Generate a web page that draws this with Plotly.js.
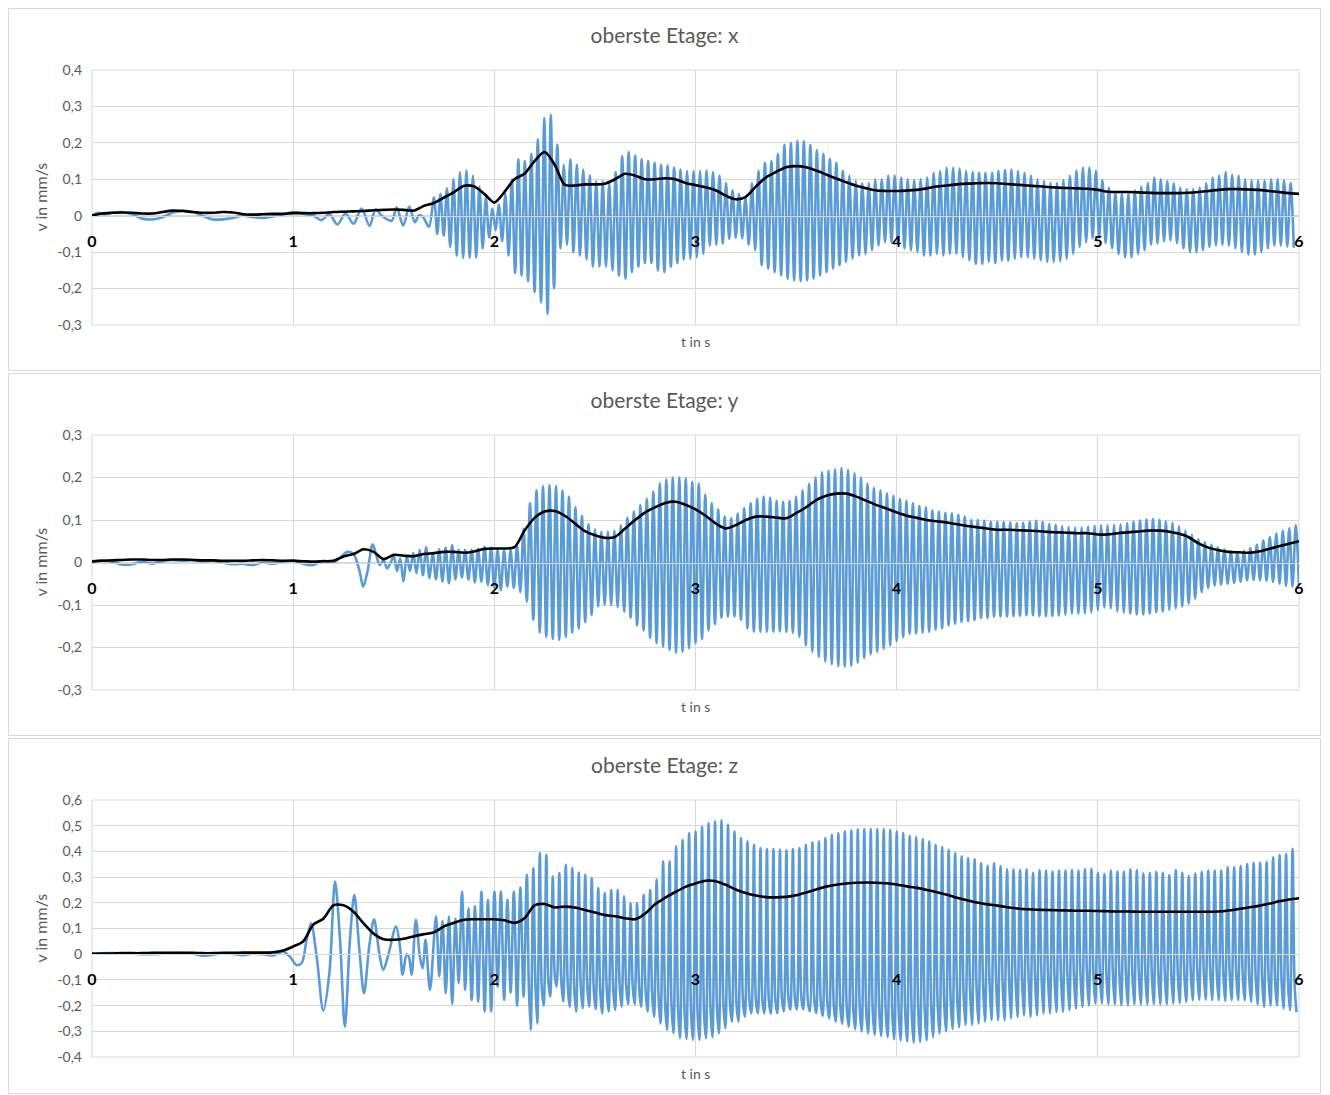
<!DOCTYPE html>
<html>
<head>
<meta charset="utf-8">
<script src="https://cdn.plot.ly/plotly-3.0.1.min.js"></script>
<style>
  html, body { margin: 0; padding: 0; background: #fff; width: 1330px; height: 1095px; overflow: hidden; }
  .panel { position: absolute; left: 8px; width: 1313px; border: 1px solid #d9d9d9; box-sizing: border-box; background: #fff; }
</style>
</head>
<body>
<div id="p1" class="panel" style="top:8px;height:363px;"></div>
<div id="p2" class="panel" style="top:373px;height:363px;"></div>
<div id="p3" class="panel" style="top:738px;height:356px;"></div>
<script>
// ---------------- DATA ----------------
const titles = ["oberste Etage: x", "oberste Etage: y", "oberste Etage: z"];
const xTickVals = [0, 1, 2, 3, 4, 5, 6];
const xTickText = ["0", "1", "2", "3", "4", "5", "6"];
const yTickVals1 = [-0.3, -0.2, -0.1, 0, 0.1, 0.2, 0.3, 0.4];
const yTickText1 = ["-0,3", "-0,2", "-0,1", "0", "0,1", "0,2", "0,3", "0,4"];
const yTickVals2 = [-0.3, -0.2, -0.1, 0, 0.1, 0.2, 0.3];
const yTickText2 = ["-0,3", "-0,2", "-0,1", "0", "0,1", "0,2", "0,3"];
const yTickVals3 = [-0.4, -0.3, -0.2, -0.1, 0, 0.1, 0.2, 0.3, 0.4, 0.5, 0.6];
const yTickText3 = ["-0,4", "-0,3", "-0,2", "-0,1", "0", "0,1", "0,2", "0,3", "0,4", "0,5", "0,6"];

// oscillation: one cycle every 1/31 s
const cyclePeriod = 1 / 31;
const meanStep = 0.05;   // black curve sampled every 0.05 s from 0 to 6 s

// ---- x direction ----
const xEarlyT = [0,0.03,0.06,0.1,0.15,0.2,0.25,0.3,0.35,0.4,0.45,0.5,0.55,0.6,0.65,0.7,0.75,0.8,0.85,0.9,0.95,1.0,1.05,1.1,
  1.14,1.18,1.22,1.26,1.3,1.34,1.38,1.41,1.44,1.49,1.514,1.547,1.577,1.605,1.627,1.646,1.675];
const xEarlyV = [0,0.008,0.004,0.008,0.01,0.004,-0.008,-0.01,-0.004,0.008,0.014,0.01,0,-0.01,-0.01,-0.006,0,-0.004,-0.006,-0.002,0.004,0.01,0.006,0,
  -0.012,0.004,-0.024,0.006,-0.022,0.02,-0.028,0.018,0,-0.014,0.023,-0.027,0.025,-0.018,0.002,-0.004,-0.03];
const xOscStart = 1.70;
const xHi = [
  0.05,0.06,0.075,0.10,0.12,0.125,0.11,0.08,0.05,0.02,
  0.03,0.06,0.10,0.155,0.15,0.17,0.21,0.268,0.277,0.195,
  0.14,0.155,0.14,0.127,0.11,0.095,0.095,0.09,0.12,0.164,
  0.175,0.165,0.155,0.15,0.145,0.14,0.138,0.132,0.127,0.123,
  0.123,0.123,0.125,0.12,0.11,0.09,0.07,0.06,0.05,0.09,
  0.123,0.145,0.15,0.17,0.195,0.2,0.205,0.205,0.195,0.18,
  0.17,0.156,0.145,0.123,0.11,0.095,0.09,0.09,0.1,0.1,
  0.11,0.11,0.105,0.1,0.098,0.1,0.105,0.118,0.123,0.132,
  0.132,0.13,0.123,0.12,0.118,0.118,0.118,0.123,0.125,0.127,
  0.123,0.118,0.11,0.1,0.095,0.09,0.09,0.098,0.11,0.125,
  0.132,0.132,0.123,0.098,0.077,0.064,0.06,0.06,0.07,0.08,
  0.09,0.105,0.1,0.095,0.089,0.077,0.073,0.073,0.077,0.09,
  0.105,0.11,0.12,0.112,0.11,0.1,0.097,0.097,0.097,0.1,
  0.1,0.097,0.09];
const xLo = [
  -0.05,-0.055,-0.086,-0.11,-0.116,-0.116,-0.115,-0.09,-0.06,-0.04,
  -0.07,-0.11,-0.157,-0.164,-0.18,-0.21,-0.238,-0.27,-0.2,-0.09,
  -0.08,-0.1,-0.11,-0.12,-0.14,-0.14,-0.14,-0.15,-0.165,-0.173,
  -0.155,-0.14,-0.13,-0.13,-0.15,-0.155,-0.14,-0.13,-0.12,-0.118,
  -0.114,-0.105,-0.082,-0.08,-0.077,-0.064,-0.06,-0.062,-0.08,-0.095,
  -0.136,-0.145,-0.155,-0.164,-0.173,-0.177,-0.18,-0.178,-0.173,-0.164,
  -0.155,-0.145,-0.136,-0.127,-0.118,-0.11,-0.105,-0.095,-0.082,-0.073,
  -0.073,-0.077,-0.09,-0.095,-0.1,-0.11,-0.11,-0.105,-0.11,-0.105,
  -0.105,-0.114,-0.123,-0.132,-0.132,-0.127,-0.13,-0.123,-0.123,-0.118,
  -0.114,-0.114,-0.118,-0.123,-0.127,-0.127,-0.125,-0.118,-0.105,-0.086,
  -0.073,-0.062,-0.06,-0.075,-0.09,-0.105,-0.114,-0.114,-0.105,-0.095,
  -0.08,-0.077,-0.07,-0.068,-0.075,-0.09,-0.1,-0.1,-0.095,-0.086,
  -0.082,-0.08,-0.082,-0.09,-0.1,-0.107,-0.107,-0.1,-0.09,-0.082,
  -0.082,-0.085,-0.088];
const xMean = [
  0.00,0.006,0.008,0.009,0.008,0.006,0.006,0.01,0.014,0.013,
  0.01,0.008,0.008,0.01,0.009,0.004,0.003,0.004,0.005,0.005,
  0.007,0.007,0.007,0.008,0.01,0.011,0.012,0.013,0.015,0.016,
  0.017,0.016,0.014,0.027,0.035,0.05,0.065,0.082,0.08,0.06,
  0.036,0.065,0.1,0.115,0.15,0.175,0.14,0.085,0.083,0.086,
  0.086,0.088,0.1,0.115,0.11,0.1,0.1,0.103,0.1,0.09,
  0.084,0.078,0.07,0.055,0.045,0.052,0.08,0.105,0.12,0.133,
  0.136,0.133,0.124,0.113,0.102,0.092,0.082,0.075,0.069,0.068,
  0.068,0.069,0.071,0.075,0.08,0.083,0.086,0.088,0.089,0.09,
  0.089,0.087,0.085,0.083,0.081,0.079,0.077,0.076,0.075,0.074,
  0.071,0.066,0.065,0.065,0.064,0.063,0.062,0.062,0.062,0.063,
  0.065,0.068,0.071,0.073,0.073,0.072,0.071,0.068,0.065,0.062,
  0.06];

// ---- y direction ----
const yEarlyT = [0,0.05,0.1,0.15,0.2,0.25,0.3,0.35,0.4,0.45,0.5,0.55,0.6,0.65,0.7,0.75,0.8,0.85,0.9,0.95,1.0,1.05,1.1,1.15,1.2,
  1.23,1.27,1.3,1.33,1.348,1.37,1.395,1.415,1.43,1.45,1.467,1.485];
const yEarlyV = [0.003,0.005,0.002,-0.005,-0.004,0.002,-0.003,0.003,0.006,0.004,0.006,0.003,0.004,0,-0.004,-0.003,-0.006,0,-0.003,0.002,0.005,-0.003,-0.006,0.004,0,
  0.01,0.025,0.02,-0.02,-0.057,-0.02,0.043,0.014,-0.006,0.005,-0.014,0.0];
const yOscStart = 1.50;
const yHi = [
  0.015,0.01,0.015,0.023,0.03,0.036,0.022,0.031,0.035,0.041,
  0.03,0.03,0.03,0.032,0.037,0.035,0.03,0.03,0.03,0.04,
  0.08,0.14,0.17,0.18,0.182,0.18,0.17,0.155,0.13,0.11,
  0.09,0.078,0.073,0.073,0.075,0.088,0.105,0.12,0.135,0.15,
  0.167,0.186,0.196,0.2,0.2,0.198,0.19,0.186,0.16,0.14,
  0.125,0.108,0.104,0.115,0.128,0.14,0.15,0.155,0.152,0.145,
  0.143,0.145,0.155,0.17,0.185,0.2,0.212,0.216,0.219,0.222,
  0.218,0.21,0.2,0.186,0.176,0.17,0.163,0.157,0.15,0.145,
  0.14,0.133,0.13,0.123,0.12,0.117,0.116,0.112,0.108,0.1,
  0.1,0.098,0.096,0.096,0.095,0.094,0.092,0.093,0.096,0.098,
  0.095,0.09,0.088,0.086,0.084,0.083,0.083,0.085,0.087,0.088,
  0.088,0.089,0.09,0.092,0.096,0.099,0.101,0.102,0.1,0.097,
  0.094,0.086,0.075,0.065,0.055,0.048,0.042,0.036,0.031,0.026,
  0.024,0.027,0.034,0.042,0.052,0.06,0.068,0.075,0.081,0.088];
const yLo = [
  -0.02,-0.045,-0.02,-0.025,-0.03,-0.037,-0.04,-0.045,-0.049,-0.04,
  -0.035,-0.04,-0.047,-0.045,-0.053,-0.06,-0.065,-0.057,-0.06,-0.07,
  -0.092,-0.135,-0.165,-0.175,-0.18,-0.182,-0.175,-0.165,-0.155,-0.14,
  -0.124,-0.104,-0.1,-0.1,-0.105,-0.116,-0.13,-0.148,-0.16,-0.178,
  -0.19,-0.198,-0.206,-0.212,-0.21,-0.202,-0.19,-0.18,-0.16,-0.145,
  -0.13,-0.127,-0.127,-0.135,-0.155,-0.163,-0.163,-0.163,-0.163,-0.162,
  -0.163,-0.165,-0.175,-0.195,-0.21,-0.222,-0.233,-0.24,-0.244,-0.245,
  -0.243,-0.236,-0.225,-0.216,-0.21,-0.203,-0.195,-0.185,-0.176,-0.168,
  -0.167,-0.165,-0.163,-0.158,-0.155,-0.148,-0.144,-0.14,-0.138,-0.135,
  -0.131,-0.13,-0.127,-0.127,-0.127,-0.126,-0.125,-0.124,-0.124,-0.126,
  -0.126,-0.126,-0.125,-0.123,-0.121,-0.121,-0.12,-0.118,-0.112,-0.106,
  -0.108,-0.115,-0.118,-0.12,-0.122,-0.122,-0.12,-0.117,-0.115,-0.112,
  -0.108,-0.104,-0.097,-0.085,-0.07,-0.06,-0.054,-0.052,-0.05,-0.048,
  -0.045,-0.042,-0.041,-0.042,-0.043,-0.046,-0.05,-0.055,-0.057,-0.055];
const yMean = [
  0.002,0.004,0.005,0.006,0.007,0.007,0.006,0.006,0.007,0.007,
  0.006,0.005,0.005,0.004,0.004,0.004,0.005,0.006,0.005,0.004,
  0.004,0.003,0.002,0.003,0.004,0.014,0.02,0.031,0.025,0.008,
  0.018,0.016,0.015,0.02,0.022,0.025,0.025,0.023,0.026,0.032,
  0.033,0.033,0.036,0.075,0.105,0.12,0.121,0.11,0.092,0.074,
  0.064,0.058,0.06,0.08,0.1,0.118,0.13,0.14,0.143,0.136,
  0.125,0.11,0.092,0.08,0.088,0.1,0.108,0.108,0.106,0.104,
  0.116,0.13,0.147,0.157,0.162,0.162,0.155,0.145,0.135,0.127,
  0.118,0.11,0.105,0.1,0.097,0.094,0.09,0.086,0.083,0.08,
  0.077,0.077,0.076,0.075,0.074,0.072,0.071,0.07,0.069,0.069,
  0.066,0.066,0.069,0.071,0.073,0.075,0.075,0.073,0.068,0.06,
  0.045,0.035,0.029,0.025,0.024,0.023,0.026,0.032,0.038,0.044,
  0.05];

// ---- z direction ----
const zEarlyT = [0,0.1,0.2,0.3,0.4,0.5,0.55,0.6,0.65,0.7,0.75,0.8,0.85,0.9,0.95,
  0.984,1.017,1.042,1.067,1.089,1.117,1.15,1.18,1.208,1.233,
  1.257,1.282,1.304,1.329,1.352,1.378,1.402,1.428,1.448,1.473,
  1.511,1.531,1.544,1.564,1.575,1.589,1.61,1.63,1.644,1.658,1.68];
const zEarlyV = [0.003,0.004,0.002,0,0.004,0.002,-0.006,-0.002,0.003,0.001,-0.004,0.002,0,-0.005,0.01,
  -0.01,-0.042,-0.035,0.056,0.12,-0.01,-0.22,-0.074,0.283,0.055,
  -0.282,0.055,0.231,0.017,-0.152,0.03,0.136,0.004,-0.061,-0.003,
  0.108,0.03,-0.08,0,-0.01,-0.08,0.134,-0.01,-0.055,0.056,-0.139];
const zOscStart = 1.71;
const zHi = [
  0.147,0.13,0.147,0.14,0.244,0.179,0.186,0.244,0.212,0.244,
  0.244,0.212,0.244,0.26,0.309,0.335,0.394,0.387,0.303,0.316,
  0.348,0.335,0.318,0.309,0.296,0.257,0.238,0.25,0.25,0.225,
  0.199,0.199,0.231,0.25,0.29,0.361,0.361,0.42,0.445,0.471,
  0.478,0.497,0.51,0.517,0.521,0.504,0.478,0.452,0.439,0.426,
  0.413,0.409,0.409,0.406,0.404,0.409,0.413,0.426,0.435,0.438,
  0.452,0.465,0.471,0.478,0.482,0.487,0.487,0.487,0.487,0.487,
  0.484,0.478,0.471,0.461,0.456,0.448,0.439,0.426,0.417,0.406,
  0.394,0.381,0.374,0.37,0.355,0.344,0.355,0.343,0.33,0.33,
  0.327,0.33,0.317,0.327,0.325,0.322,0.325,0.325,0.327,0.325,
  0.33,0.332,0.317,0.312,0.325,0.322,0.322,0.33,0.327,0.314,
  0.317,0.321,0.317,0.308,0.327,0.317,0.304,0.314,0.321,0.325,
  0.325,0.325,0.338,0.338,0.343,0.351,0.356,0.356,0.36,0.377,
  0.386,0.39,0.41];
const zMid = [
  null,null,null,null,null,null,null,null,null,null,
  null,null,null,null,-0.12,-0.1,-0.13,-0.1,-0.08,-0.1,
  -0.12,-0.13,-0.12,-0.12,-0.13,-0.14,-0.13,-0.13,-0.12,-0.12,
  -0.12,-0.13,-0.14,-0.15,-0.17,-0.19,-0.2,-0.21,-0.22,-0.22,
  -0.22,-0.22,-0.21,-0.21,-0.2,-0.19,-0.19,-0.18,-0.18,-0.18,
  -0.18,-0.18,-0.18,-0.17,-0.17,-0.17,-0.17,-0.18,-0.18,-0.19,
  -0.19,-0.2,-0.2,-0.21,-0.21,-0.21,-0.22,-0.22,-0.22,-0.22,
  -0.22,-0.22,-0.22,-0.22,-0.21,-0.21,-0.2,-0.19,-0.18,-0.17,
  -0.16,-0.15,-0.14,-0.13,-0.12,-0.11,-0.1,-0.1,-0.09,-0.09,
  -0.09,-0.08,-0.08,-0.08,-0.08,-0.08,-0.08,-0.08,-0.08,-0.07,
  -0.07,-0.07,-0.07,-0.07,-0.07,-0.07,-0.07,-0.07,-0.07,-0.07,
  -0.07,-0.07,-0.07,-0.07,-0.07,-0.07,-0.06,-0.06,-0.06,-0.06,
  -0.06,-0.06,-0.07,-0.07,-0.07,-0.08,-0.08,-0.09,-0.09,-0.1,
  -0.1,-0.11,-0.11];
const zLo = [
  -0.087,-0.152,-0.194,-0.113,-0.139,-0.178,-0.184,-0.223,-0.223,-0.126,
  -0.178,-0.15,-0.2,-0.165,-0.295,-0.27,-0.2,-0.165,-0.126,-0.184,
  -0.204,-0.223,-0.21,-0.204,-0.214,-0.23,-0.223,-0.217,-0.204,-0.194,
  -0.194,-0.204,-0.223,-0.243,-0.27,-0.295,-0.308,-0.327,-0.33,-0.334,
  -0.334,-0.327,-0.323,-0.308,-0.288,-0.262,-0.262,-0.243,-0.23,-0.23,
  -0.23,-0.232,-0.23,-0.223,-0.217,-0.215,-0.215,-0.223,-0.23,-0.24,
  -0.25,-0.262,-0.271,-0.282,-0.292,-0.301,-0.308,-0.314,-0.318,-0.323,
  -0.331,-0.336,-0.34,-0.344,-0.342,-0.336,-0.323,-0.308,-0.3,-0.292,
  -0.285,-0.275,-0.275,-0.27,-0.262,-0.256,-0.257,-0.257,-0.25,-0.244,
  -0.238,-0.244,-0.238,-0.231,-0.231,-0.225,-0.225,-0.218,-0.212,-0.205,
  -0.199,-0.192,-0.192,-0.195,-0.195,-0.199,-0.199,-0.195,-0.195,-0.195,
  -0.195,-0.195,-0.195,-0.192,-0.19,-0.186,-0.179,-0.177,-0.177,-0.179,
  -0.179,-0.182,-0.179,-0.179,-0.18,-0.186,-0.195,-0.205,-0.199,-0.199,
  -0.212,-0.218,-0.225];
const zMean = [
  0.002,0.003,0.003,0.004,0.004,0.004,0.005,0.005,0.005,0.005,
  0.005,0.004,0.004,0.005,0.005,0.006,0.006,0.006,0.007,0.014,
  0.03,0.05,0.115,0.138,0.19,0.19,0.165,0.12,0.08,0.058,
  0.056,0.06,0.07,0.078,0.085,0.108,0.122,0.134,0.136,0.136,
  0.136,0.132,0.122,0.14,0.19,0.195,0.182,0.185,0.182,0.172,
  0.162,0.152,0.148,0.14,0.136,0.158,0.195,0.22,0.242,0.262,
  0.275,0.286,0.284,0.27,0.252,0.238,0.228,0.222,0.221,0.223,
  0.229,0.24,0.252,0.263,0.27,0.275,0.278,0.279,0.278,0.276,
  0.271,0.264,0.258,0.25,0.241,0.231,0.22,0.21,0.201,0.194,
  0.189,0.183,0.178,0.175,0.173,0.172,0.171,0.17,0.169,0.169,
  0.168,0.167,0.166,0.166,0.165,0.165,0.165,0.165,0.165,0.165,
  0.165,0.165,0.166,0.17,0.176,0.182,0.188,0.196,0.206,0.213,
  0.218];

// ---------------- BUILD ----------------
function buildSignal(earlyT, earlyV, start, hi, lo, mid) {
  const t = earlyT.slice(), v = earlyV.slice();
  for (let i = 0; i < hi.length; i++) {
    const t0 = start + i * cyclePeriod;
    t.push(t0); v.push(hi[i]);
    if (mid && mid[i] !== null) {
      t.push(t0 + 0.3 * cyclePeriod); v.push(mid[i]);
      t.push(t0 + 0.6 * cyclePeriod); v.push(lo[i]);
    } else {
      t.push(t0 + 0.5 * cyclePeriod); v.push(lo[i]);
    }
  }
  return { t, v };
}
function meanTimes(arr) { return arr.map((_, i) => +(i * meanStep).toFixed(3)); }

const FONT = "Lato, 'Open Sans', 'Liberation Sans', sans-serif";
const GRID = "#d9d9d9";
const GREY = "#595959";

function draw(divId, title, sig, mean, yRange, yVals, yText, H, bMargin) {
  const mT = 62;
  const zeroPos = (0 - yRange[0]) / (yRange[1] - yRange[0]);
  const traces = [
    { x: sig.t, y: sig.v, type: "scatter", mode: "lines",
      line: { color: "#5b9bd5", width: 2.6, shape: "spline", smoothing: 0.9 }, hoverinfo: "skip" },
    { x: meanTimes(mean), y: mean, type: "scatter", mode: "lines",
      line: { color: "#000000", width: 2.6, shape: "spline", smoothing: 0.8 }, hoverinfo: "skip" }
  ];
  const layout = {
    width: 1311, height: H - 2,
    margin: { l: 83, r: 21, t: mT - 1, b: bMargin - 1, pad: 0 },
    paper_bgcolor: "#ffffff", plot_bgcolor: "#ffffff",
    showlegend: false,
    font: { family: FONT, color: GREY, size: 14 },
    title: { text: title, font: { family: FONT, size: 21, color: GREY },
             x: 0.5, xanchor: "center", y: 1 - 27 / (H - 2), yanchor: "middle", yref: "container" },
    xaxis: {
      range: [0, 6], tickvals: xTickVals, ticktext: xTickText,
      showgrid: true, gridcolor: GRID, gridwidth: 1,
      zeroline: false, showline: true, linecolor: GRID, linewidth: 1,
      anchor: "free", position: zeroPos, ticks: "",
      ticklabelstandoff: 11,
      tickfont: { family: FONT, size: 16, color: "#000000", weight: "bold" }
    },
    yaxis: {
      range: yRange, tickvals: yVals, ticktext: yText,
      showgrid: true, gridcolor: GRID, gridwidth: 1,
      zeroline: false, showline: false, ticks: "",
      ticklabelstandoff: 9,
      tickfont: { family: FONT, size: 14, color: GREY }
    },
    shapes: [
      { type: "rect", xref: "paper", yref: "paper", x0: 0, x1: 1, y0: 0, y1: 1,
        line: { color: GRID, width: 1 }, fillcolor: "rgba(0,0,0,0)", layer: "below" }
    ],
    annotations: [
      { text: "t in s", xref: "paper", yref: "paper", x: 0.5, y: 0, yshift: -16,
        xanchor: "center", yanchor: "middle", showarrow: false,
        font: { family: FONT, size: 14, color: GREY } },
      { text: "v in mm/s", xref: "paper", yref: "paper", x: 0, y: 0.5, xshift: -52,
        xanchor: "center", yanchor: "middle", textangle: -90, showarrow: false,
        font: { family: FONT, size: 16, color: GREY } }
    ]
  };
  Plotly.newPlot(divId, traces, layout, { staticPlot: true, displayModeBar: false });
}

const sigX = buildSignal(xEarlyT, xEarlyV, xOscStart, xHi, xLo, null);
const sigY = buildSignal(yEarlyT, yEarlyV, yOscStart, yHi, yLo, null);
const sigZ = buildSignal(zEarlyT, zEarlyV, zOscStart, zHi, zLo, zMid);

draw("p1", titles[0], sigX, xMean, [-0.3, 0.4], yTickVals1, yTickText1, 363, 46);
draw("p2", titles[1], sigY, yMean, [-0.3, 0.3], yTickVals2, yTickText2, 363, 46);
draw("p3", titles[2], sigZ, zMean, [-0.4, 0.6], yTickVals3, yTickText3, 356, 37);
</script>
</body>
</html>
